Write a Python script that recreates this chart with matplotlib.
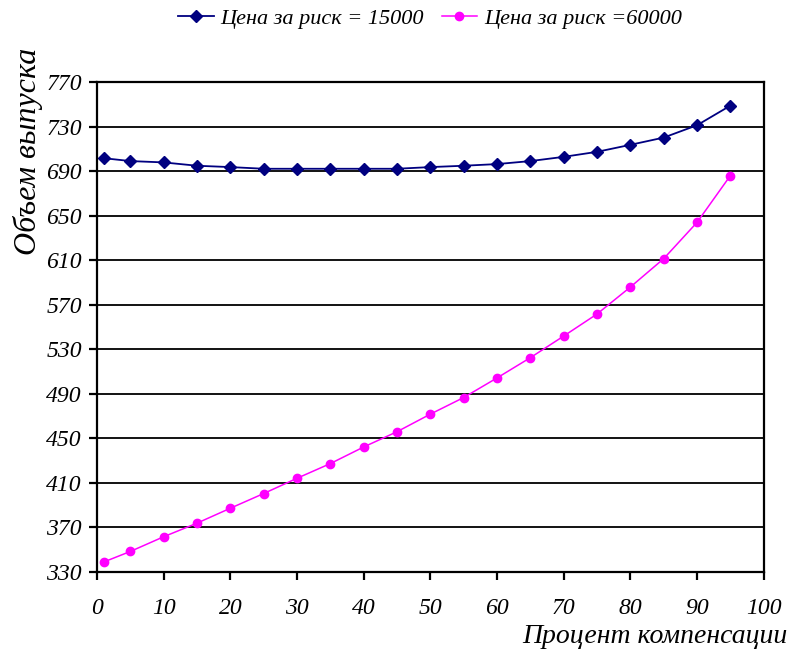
import matplotlib.pyplot as plt
import numpy as np

plt.rcParams['font.family'] = ['Liberation Serif', 'DejaVu Serif']
plt.rcParams['font.style'] = 'italic'

x = [1, 5, 10, 15, 20, 25, 30, 35, 40, 45, 50, 55, 60, 65, 70, 75, 80, 85, 90, 95]
risk_15000 = [701.6, 699.0, 697.8, 694.8, 693.6, 692.1, 692.1, 692.1, 692.1, 692.1,
              693.6, 694.8, 696.3, 699.0, 702.8, 707.3, 713.6, 720.1, 731.2, 748.8]
risk_60000 = [339.0, 348.5, 361.7, 373.9, 387.3, 400.5, 414.2, 427.4, 442.3, 456.0,
              471.8, 486.7, 504.3, 522.5, 541.9, 561.7, 585.9, 611.4, 644.0, 686.0]

xticks = np.arange(0, 101, 10)
yticks = np.arange(330, 771, 40)

fig = plt.figure(figsize=(7.89, 6.56), dpi=100)
ax = fig.add_axes([0.123, 0.128, 0.845, 0.747])

ax.plot(x, risk_15000, color='#000080', lw=1.3, marker='D', ms=6,
        label='Цена за риск = 15000')
ax.plot(x, risk_60000, color='#FF00FF', lw=1.1, marker='o', ms=6,
        label='Цена за риск =60000')

ax.set_xlim(0, 100)
ax.set_ylim(330, 770)
ax.set_xticks(xticks)
ax.set_yticks(yticks)
ax.yaxis.grid(True, color='black', lw=1.3)
ax.set_axisbelow(True)
for s in ax.spines.values():
    s.set_linewidth(1.6)
    s.set_color('black')
ax.tick_params(direction='out', length=6, width=1.6, labelsize=17, pad=5)
ax.tick_params(axis='x', pad=13)

fig.text(0.036, 0.77, 'Объем выпуска', rotation=90, fontsize=23,
         ha='center', va='center')
fig.text(0.998, 0.03, 'Процент компенсации', fontsize=20,
         ha='right', va='center')

fig.legend(loc='center', bbox_to_anchor=(0.545, 0.972), ncol=2, frameon=False,
           fontsize=16, handlelength=1.6, columnspacing=0.8, handletextpad=0.3)

fig.savefig('out.png', dpi=100)
